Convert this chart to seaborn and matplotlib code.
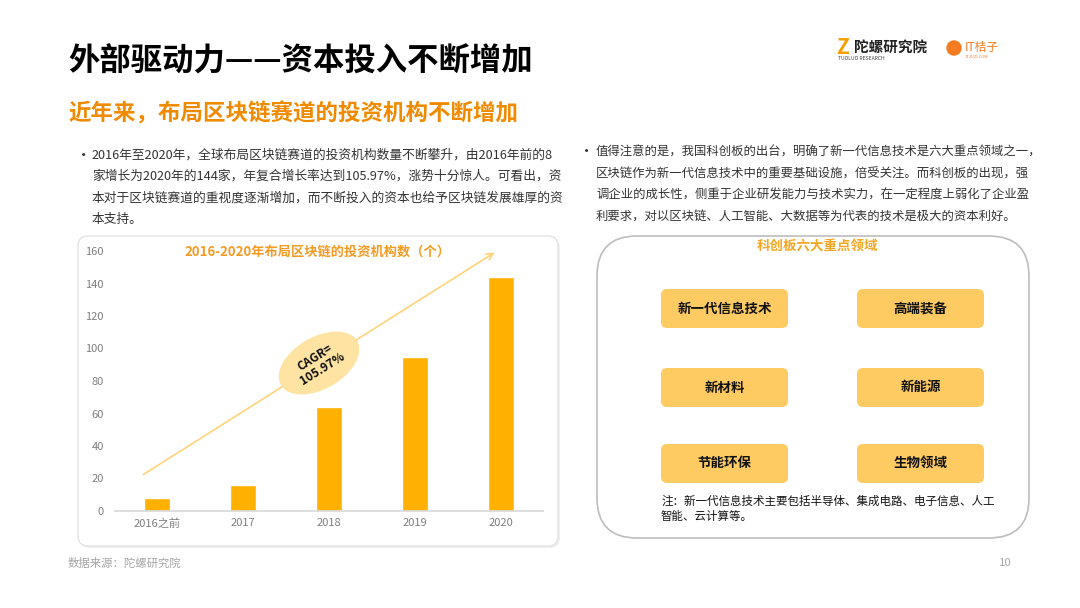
import numpy as np
import pandas as pd
import seaborn as sns
import matplotlib
matplotlib.use("Agg")
import matplotlib.pyplot as plt
from matplotlib.patches import FancyBboxPatch, Ellipse, Circle

# chart data
years = ["2016之前", "2017", "2018", "2019", "2020"]
investors = [8, 16, 64, 95, 144]
y_ticks = [0, 20, 40, 60, 80, 100, 120, 140, 160]

# slide text
title = "外部驱动力——资本投入不断增加"
subtitle = "近年来，布局区块链赛道的投资机构不断增加"
chart_title = "2016-2020年布局区块链的投资机构数（个）"
cagr_text = "CAGR=\n105.97%"
left_lines = [
    "2016年至2020年，全球布局区块链赛道的投资机构数量不断攀升，由2016年前的8",
    "家增长为2020年的144家，年复合增长率达到105.97%，涨势十分惊人。可看出，资",
    "本对于区块链赛道的重视度逐渐增加，而不断投入的资本也给予区块链发展雄厚的资",
    "本支持。",
]
right_lines = [
    "值得注意的是，我国科创板的出台，明确了新一代信息技术是六大重点领域之一，",
    "区块链作为新一代信息技术中的重要基础设施，倍受关注。而科创板的出现，强",
    "调企业的成长性，侧重于企业研发能力与技术实力，在一定程度上弱化了企业盈",
    "利要求，对以区块链、人工智能、大数据等为代表的技术是极大的资本利好。",
]
board_title = "科创板六大重点领域"
fields = ["新一代信息技术", "高端装备", "新材料", "新能源", "节能环保", "生物领域"]
note_lines = ["注：新一代信息技术主要包括半导体、集成电路、电子信息、人工", "智能、云计算等。"]
source = "数据来源：陀螺研究院"
page_no = "10"

sns.set_theme(style="white")
plt.rcParams['font.family'] = ['Noto Sans CJK SC', 'DejaVu Sans']

ORANGE = "#F08A00"
BAR = "#FFB000"

fig = plt.figure(figsize=(10.8, 6.08), dpi=100)

# background axes in pixel coordinates
bg = fig.add_axes([0, 0, 1, 1], zorder=0)
bg.set_xlim(0, 1080)
bg.set_ylim(608, 0)
bg.axis("off")

bg.text(68, 62, title, fontsize=22.6, fontweight="bold", color="black", va="center")
bg.text(68, 114, subtitle, fontsize=16.2, fontweight="bold", color=ORANGE, va="center")

# logos (approximated with text)
bg.text(836, 48, "Z", fontsize=15, fontweight="bold", color="#F5A000", va="center")
bg.text(854, 47, "陀螺研究院", fontsize=10.5, fontweight="bold", color="#222222", va="center")
bg.text(838, 59, "TUOLUO RESEARCH", fontsize=3.6, color="#444444", va="center")
bg.add_patch(Circle((954, 48), 7, color="#F57C20"))
bg.text(965, 47, "IT桔子", fontsize=8.5, color="#F57C20", va="center")
bg.text(966, 57, "ITJUZI.COM", fontsize=3, color="#F57C20", va="center")

# paragraphs
for i, line in enumerate(left_lines):
    bg.text(92, 155 + i * 21.5, line, fontsize=9.15, color="#333333", va="center")
bg.text(76, 155, "•", fontsize=11, color="#333333", va="center")
for i, line in enumerate(right_lines):
    bg.text(596, 152 + i * 21.7, line, fontsize=8.9, color="#333333", va="center")
bg.text(579, 152, "•", fontsize=11, color="#333333", va="center")

# chart frame
bg.add_patch(FancyBboxPatch((80, 238), 480, 310, boxstyle="round,pad=0,rounding_size=10",
                            fc="#EFEFEF", ec="none", zorder=0))
bg.add_patch(FancyBboxPatch((78, 236), 480, 310, boxstyle="round,pad=0,rounding_size=10",
                            fc="white", ec="#E3E3E3", lw=1, zorder=1))

# board frame
bg.add_patch(FancyBboxPatch((597, 236), 432, 302, boxstyle="round,pad=0,rounding_size=40",
                            fc="white", ec="#BDBDBD", lw=1.2, zorder=1))
bg.text(817, 247, board_title, fontsize=9.7, fontweight="bold", color="#F5A623",
        ha="center", va="center", zorder=2)
box_x = [661, 857]
box_y = [289, 368, 444]
for k, name in enumerate(fields):
    x0 = box_x[k % 2]
    y0 = box_y[k // 2]
    bg.add_patch(FancyBboxPatch((x0, y0), 127, 39, boxstyle="round,pad=0,rounding_size=6",
                                fc="#FECB63", ec="none", zorder=2))
    bg.text(x0 + 63.5, y0 + 19.5, name, fontsize=9.7, fontweight="bold", color="#111111",
            ha="center", va="center", zorder=3)
for i, line in enumerate(note_lines):
    bg.text(661, 501 + i * 15, line, fontsize=8.3, color="#111111", va="center", zorder=3)

bg.text(68, 563, source, fontsize=8.2, color="#A6A6A6", va="center")
bg.text(1012, 563, page_no, fontsize=8.2, color="#A6A6A6", va="center", ha="right")

# bar chart
ax = fig.add_axes([115 / 1080, 1 - 511 / 608, 428 / 1080, 260 / 608], zorder=2)
ax.patch.set_alpha(0)
df = pd.DataFrame({"year": years, "count": investors})
sns.barplot(data=df, x="year", y="count", color=BAR, width=0.31, saturation=1, ax=ax)
ax.set_ylim(0, 160)
ax.set_yticks(y_ticks)
ax.set_xlim(-0.49, 4.49)
ax.set_xlabel("")
ax.set_ylabel("")
ax.tick_params(axis="both", length=0, labelsize=8, labelcolor="#7F7F7F")
ax.tick_params(axis="y", pad=8)
ax.tick_params(axis="x", pad=5)
for s in ["top", "right", "left"]:
    ax.spines[s].set_visible(False)
ax.spines["bottom"].set_color("#D9D9D9")

# trend arrow + CAGR bubble (in pixel coordinates on background)
bg.annotate("", xy=(497, 251), xytext=(141, 476),
            arrowprops=dict(arrowstyle="->", color="#FFD37A", lw=1.2), zorder=3)
bg.add_patch(Ellipse((319, 363), 88, 52, angle=-30, fc="#FFE3A3", ec="none", zorder=4))
bg.text(319, 363, cagr_text, fontsize=8.5, fontweight="bold", color="#111111",
        rotation=32, ha="center", va="center", linespacing=1.0, zorder=5)
bg.text(317, 252, chart_title, fontsize=9.5, fontweight="bold", color="#F59A23",
        ha="center", va="center", zorder=5)

fig.savefig("out.png", dpi=100)
